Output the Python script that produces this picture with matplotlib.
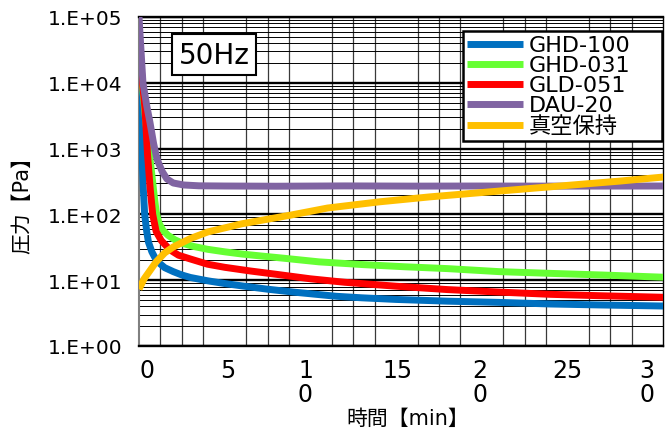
"""
Pump-down curves at 50Hz: pressure vs. time for four pumps plus vacuum hold
Log-scale pressure axis, Excel-style dense grid
"""

import matplotlib
matplotlib.use("Agg")
import matplotlib.pyplot as plt
import matplotlib.transforms as mtransforms
import numpy as np

# latin text in DejaVu (wide glyphs like the original), CJK falls back to Noto
plt.rcParams['font.family'] = ['DejaVu Sans', 'Noto Sans CJK JP']

# Data (time in min, pressure in Pa)
t_ghd100 = [0, 0.08, 0.16, 0.25, 0.33, 0.45, 0.55, 0.75, 0.95, 1.15, 1.5, 2.0, 2.5,
            3.0, 4.0, 5.0, 6.0, 7.5, 9.0, 11.5, 13.0, 15.0, 18.0, 21.0, 24.0, 27.0, 30.6]
p_ghd100 = [13000, 4000, 1000, 250, 100, 55, 38, 27, 21.5, 18.5, 15.5, 13.5, 12.0,
            11.0, 9.8, 8.9, 8.2, 7.3, 6.6, 5.7, 5.4, 5.1, 4.8, 4.6, 4.35, 4.2, 4.05]

t_ghd031 = [0, 0.2, 0.4, 0.6, 0.75, 0.9, 1.0, 1.15, 1.4, 1.7, 2.1, 2.6, 3.2, 4.0,
            5.0, 6.0, 7.0, 8.5, 10.5, 13.0, 15.5, 18.0, 21.0, 24.0, 27.0, 30.6]
p_ghd031 = [30000, 9000, 2500, 900, 400, 180, 110, 75, 57, 48, 41, 36, 32.5, 29.5,
            27, 25, 23.5, 21.5, 19.0, 17.3, 16.0, 15.0, 13.5, 12.7, 12.0, 11.1]

t_gld051 = [0, 0.15, 0.35, 0.5, 0.65, 0.8, 1.0, 1.3, 1.8, 2.3, 3.0, 4.0, 5.0,
            6.5, 8.0, 10.0, 12.0, 15.0, 18.0, 21.0, 24.0, 27.0, 30.6]
p_gld051 = [36000, 14000, 4000, 800, 250, 100, 55, 40, 29, 24, 21, 17.5, 15.7,
            13.8, 12.3, 10.5, 9.3, 8.1, 7.2, 6.6, 6.1, 5.8, 5.5]

t_dau20 = [0, 0.23, 0.45, 0.64, 0.85, 1.05, 1.35, 1.63, 2.0, 2.6, 3.5, 5.0, 8.0,
           12.0, 16.0, 20.0, 25.0, 30.6]
p_dau20 = [100000, 10000, 4500, 2500, 1200, 690, 450, 345, 300, 280, 272, 270, 268,
           271, 269, 270, 269, 270]

t_hold = [0, 0.3, 0.64, 1.0, 1.5, 2.0, 3.0, 4.0, 6.0, 8.8, 11.0, 14.0, 17.0, 20.0,
          23.0, 26.0, 28.0, 30.6]
p_hold = [7.3, 10.5, 14, 19, 26, 32, 43, 54, 72, 97, 125, 155, 185, 215,
          250, 290, 320, 370]

series_names = ['GHD-100', 'GHD-031', 'GLD-051', 'DAU-20', '真空保持']
series_colors = ['#0070C0', '#66FF33', '#FF0000', '#8064A2', '#FFC000']

x_tick_values = [0, 5, 10, 15, 20, 25, 30]
x_tick_labels = ['0', '5', '1\n0', '15', '2\n0', '25', '3\n0']
y_tick_values = [1, 10, 100, 1000, 10000, 100000]
y_tick_labels = ['1.E+00', '1.E+01', '1.E+02', '1.E+03', '1.E+04', '1.E+05']

fig = plt.figure(figsize=(6.72, 4.31), dpi=100)
ax = fig.add_axes([139 / 672, 1 - 347 / 431, 524 / 672, 329 / 431])

all_series = [(t_ghd100, p_ghd100), (t_ghd031, p_ghd031), (t_gld051, p_gld051),
              (t_dau20, p_dau20), (t_hold, p_hold)]
for (t, p), name, color in zip(all_series, series_names, series_colors):
    ax.plot(t, p, '-', color=color, linewidth=5, label=name,
            solid_capstyle='butt', solid_joinstyle='round', zorder=3)

ax.set_yscale('log')
ax.set_ylim(1, 1e5)
ax.set_xlim(0, 30.57)

# grid: thick decades, thin 2..9, vertical every 1.25 min
ax.set_yticks(y_tick_values)
ax.set_yticklabels(y_tick_labels)
ax.yaxis.set_minor_locator(matplotlib.ticker.LogLocator(base=10, subs=np.arange(2, 10)))
ax.yaxis.set_minor_formatter(matplotlib.ticker.NullFormatter())
ax.set_xticks(x_tick_values)
ax.set_xticklabels(x_tick_labels)
ax.set_xticks(np.arange(0, 30.01, 1.25), minor=True)

ax.grid(True, which='major', axis='y', color='black', linewidth=1.7, zorder=1)
ax.grid(True, which='minor', axis='y', color='black', linewidth=0.7, zorder=1)
ax.grid(True, which='minor', axis='x', color='#3a3a3a', linewidth=0.9, zorder=1)
ax.grid(False, which='major', axis='x')
ax.set_axisbelow(True)

ax.tick_params(axis='both', which='both', length=0)
ax.tick_params(axis='y', labelsize=14.5, pad=12)
ax.tick_params(axis='x', labelsize=17, pad=9)

# small offsets so the labels sit where the original ones do
x_offsets_px = [8, 3, -5, 1, -2, 0, -6]
for lab, dx in zip(ax.get_xticklabels(), x_offsets_px):
    lab.set_linespacing(0.95)
    lab.set_transform(lab.get_transform() +
                      mtransforms.ScaledTranslation(dx / 100, 0, fig.dpi_scale_trans))

for side in ['top', 'bottom']:
    ax.spines[side].set_linewidth(1.7)
ax.spines['left'].set_color('#808080')
ax.spines['left'].set_linewidth(1.5)
ax.spines['right'].set_linewidth(1.0)

fig.text(22 / 672, 1 - 200 / 431, '圧力【Pa】', rotation=90, fontsize=15,
         ha='center', va='center')
fig.text(408 / 672, 1 - 419 / 431, '時間【min】', fontsize=15,
         ha='center', va='center')

ax.text(0.143, 0.886, '50Hz', transform=ax.transAxes, fontsize=20,
        ha='center', va='center', zorder=5,
        bbox=dict(boxstyle='square,pad=0.22', facecolor='white',
                  edgecolor='black', linewidth=1.5))

# legend box spans x 463..662 px in the original
leg_x0 = (463 - 139) / 524
leg_w = (662 - 463) / 524
leg_top = (347 - 32) / 329
leg = ax.legend(loc='upper left', bbox_to_anchor=(leg_x0, leg_top - 0.4, leg_w, 0.4),
                mode='expand', fontsize=16,
                frameon=True, fancybox=False, edgecolor='black', framealpha=1,
                borderpad=0.2, labelspacing=0.0, handlelength=2.5,
                handletextpad=0.25, borderaxespad=0)
leg.get_frame().set_linewidth(1.8)
leg.set_zorder(6)

fig.savefig('out.png', dpi=100)
print("Saved: out.png")
